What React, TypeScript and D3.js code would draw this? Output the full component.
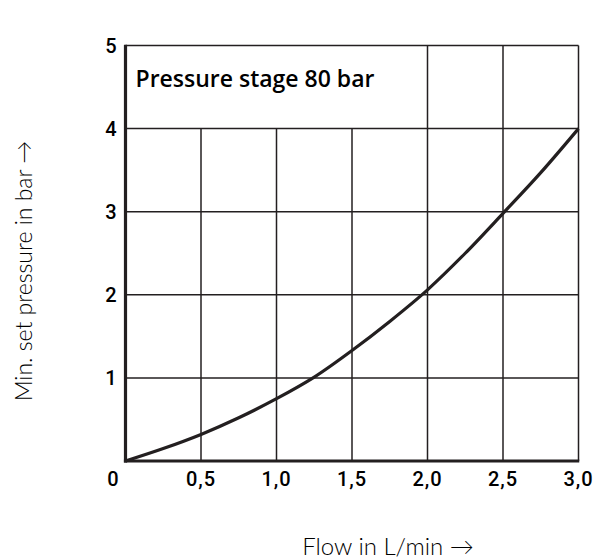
import React from 'react';
import * as d3 from 'd3';

// flow in L/min vs min. set pressure in bar
const flow = [0, 0.25, 0.5, 0.75, 1.0, 1.25, 1.5, 1.75, 2.0, 2.25, 2.5, 2.75, 3.0];
const pressure = [0, 0.15, 0.32, 0.52, 0.75, 1.01, 1.33, 1.68, 2.06, 2.5, 2.98, 3.47, 4.0];

const xTicks = [0, 0.5, 1.0, 1.5, 2.0, 2.5, 3.0];
const xTickLabels = ['0', '0,5', '1,0', '1,5', '2,0', '2,5', '3,0'];
const yTicks = [1, 2, 3, 4, 5];

const boxLabel = 'Pressure stage 80 bar';
const xTitle = 'Flow in L/min \u2192';
const yTitle = 'Min. set pressure in bar \u2192';

const ink = '#231f20';

export default function App() {
  const width = 596;
  const height = 560;

  const x = d3.scaleLinear().domain([0, 3]).range([125.5, 578.5]);
  const y = d3.scaleLinear().domain([0, 5]).range([461, 45.5]);

  const line = d3.line<number>()
    .x((d, i) => x(flow[i]))
    .y((d) => y(d))
    .curve(d3.curveMonotoneX);

  return (
    <div style={{ position: 'absolute', left: 0, top: 0 }}>
      <svg width={width} height={height} style={{ display: 'block', background: '#fff' }}>
        {/* vertical grid: the label box hides the ones left of 2.0 in the top row */}
        {xTicks.slice(1).map((t) => (
          <line
            key={`vx-${t}`}
            x1={x(t)}
            x2={x(t)}
            y1={y(0)}
            y2={t < 2 ? y(4) : y(5)}
            stroke={ink}
            strokeWidth={1.5}
          />
        ))}
        {yTicks.map((t) => (
          <line
            key={`hy-${t}`}
            x1={x(0)}
            x2={x(3)}
            y1={y(t)}
            y2={y(t)}
            stroke={ink}
            strokeWidth={1.5}
          />
        ))}

        <text
          x={x(0) + 10}
          y={87}
          fontFamily="'Open Sans', sans-serif"
          fontWeight={600}
          fontSize={23}
          fill="#000"
        >
          {boxLabel}
        </text>

        <path d={line(pressure) || ''} fill="none" stroke={ink} strokeWidth={3.2} />

        {/* heavy axes */}
        <line x1={x(0)} x2={x(0)} y1={y(5) - 0.75} y2={y(0) + 1.6} stroke={ink} strokeWidth={3.2} />
        <line x1={x(0) - 1.6} x2={x(3) + 0.75} y1={y(0)} y2={y(0)} stroke={ink} strokeWidth={3.2} />

        {xTicks.map((t, i) => (
          <text
            key={`xl-${t}`}
            x={x(t) + (i === 0 ? -12 : 0)}
            y={486}
            textAnchor="middle"
            fontFamily="Roboto, sans-serif"
            fontWeight={500}
            fontSize={20}
            letterSpacing={1}
            fill="#000"
          >
            {xTickLabels[i]}
          </text>
        ))}
        {yTicks.map((t) => (
          <text
            key={`yl-${t}`}
            x={111}
            y={y(t) + 7}
            textAnchor="middle"
            fontFamily="Roboto, sans-serif"
            fontWeight={500}
            fontSize={20}
            fill="#000"
          >
            {t}
          </text>
        ))}

        <text
          x={388}
          y={555}
          textAnchor="middle"
          fontFamily="Lato, sans-serif"
          fontWeight={300}
          fontSize={24}
          fill="#000"
        >
          {xTitle}
        </text>
        <text
          transform="translate(32, 271) rotate(-90)"
          textAnchor="middle"
          fontFamily="Lato, sans-serif"
          fontWeight={300}
          fontSize={23}
          fill="#000"
        >
          {yTitle}
        </text>
      </svg>
    </div>
  );
}
